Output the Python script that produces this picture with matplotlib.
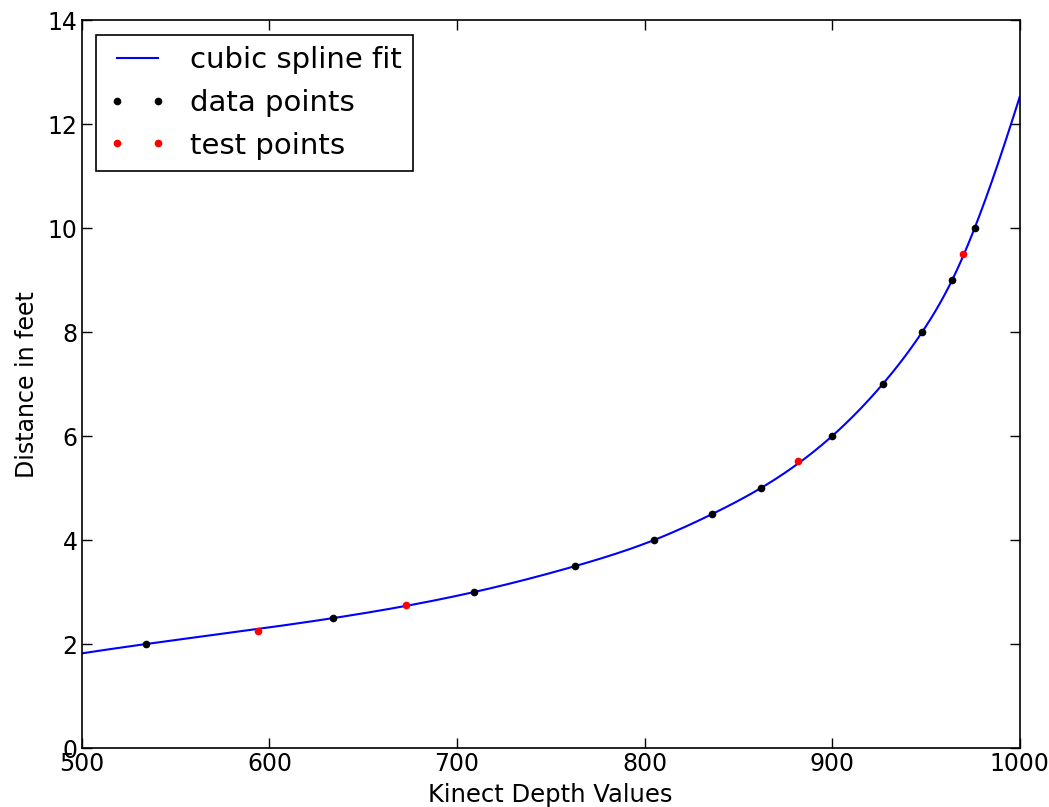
import numpy as np
import matplotlib
matplotlib.use("Agg")
import matplotlib.pyplot as plt

# measured calibration points (Kinect raw depth -> feet)
data_depth = [534, 634, 709, 763, 805, 836, 862, 900, 927, 948, 964, 976]
data_feet = [2.0, 2.5, 3.0, 3.5, 4.0, 4.5, 5.0, 6.0, 7.0, 8.0, 9.0, 10.0]

# held-out test points
test_depth = [594, 673, 882, 970]
test_feet = [2.26, 2.75, 5.52, 9.5]

# value of the fit where it leaves the plot on the right
fit_end_depth = 1000
fit_end_feet = 12.52


def spline_fit(xk, yk, xs):
    # cubic spline with not-a-knot ends, extrapolated with the end pieces
    xk = np.asarray(xk, float)
    yk = np.asarray(yk, float)
    n = len(xk)
    h = np.diff(xk)
    A = np.zeros((n, n))
    b = np.zeros(n)
    A[0, 0], A[0, 1], A[0, 2] = h[1], -(h[0] + h[1]), h[0]
    A[-1, -3], A[-1, -2], A[-1, -1] = h[-1], -(h[-2] + h[-1]), h[-2]
    for i in range(1, n - 1):
        A[i, i - 1] = h[i - 1]
        A[i, i] = 2 * (h[i - 1] + h[i])
        A[i, i + 1] = h[i]
        b[i] = 6 * ((yk[i + 1] - yk[i]) / h[i] - (yk[i] - yk[i - 1]) / h[i - 1])
    m = np.linalg.solve(A, b)
    idx = np.clip(np.searchsorted(xk, xs) - 1, 0, n - 2)
    x0, x1 = xk[idx], xk[idx + 1]
    hh = x1 - x0
    t0 = x1 - xs
    t1 = xs - x0
    return (m[idx] * t0 ** 3 / (6 * hh) + m[idx + 1] * t1 ** 3 / (6 * hh)
            + (yk[idx] / hh - m[idx] * hh / 6) * t0
            + (yk[idx + 1] / hh - m[idx + 1] * hh / 6) * t1)


xs = np.linspace(500, 1000, 600)
ys = spline_fit(data_depth + [fit_end_depth], data_feet + [fit_end_feet], xs)

plt.rcParams["font.family"] = "DejaVu Sans"
plt.rcParams["xtick.direction"] = "in"
plt.rcParams["ytick.direction"] = "in"

fig = plt.figure(figsize=(10.49, 8.07), dpi=100)
ax = fig.add_axes([0.078, 0.073, 0.894, 0.902])

ax.plot(xs, ys, color="#0000ff", lw=1.5, label="cubic spline fit")
ax.plot(data_depth, data_feet, ".", color="black", ms=9, label="data points")
ax.plot(test_depth, test_feet, ".", color="red", ms=9, label="test points")

ax.set_xlim(500, 1000)
ax.set_ylim(0, 14)
ax.set_xticks([500, 600, 700, 800, 900, 1000])
ax.set_yticks([0, 2, 4, 6, 8, 10, 12, 14])
ax.tick_params(labelsize=17, length=7, width=1, top=True, right=True, pad=3)
for s in ax.spines.values():
    s.set_linewidth(1.2)

ax.set_xlabel("Kinect Depth Values", fontsize=17.5, labelpad=5)
ax.set_ylabel("Distance in feet", fontsize=17, labelpad=6)

leg = ax.legend(loc="upper left", numpoints=2, fontsize=21, fancybox=False,
                framealpha=1, edgecolor="black", borderaxespad=0.5,
                handlelength=2.0, handletextpad=0.8, borderpad=0.4,
                labelspacing=0.5)
leg.get_frame().set_linewidth(1.2)

fig.savefig("out.png", dpi=100)
